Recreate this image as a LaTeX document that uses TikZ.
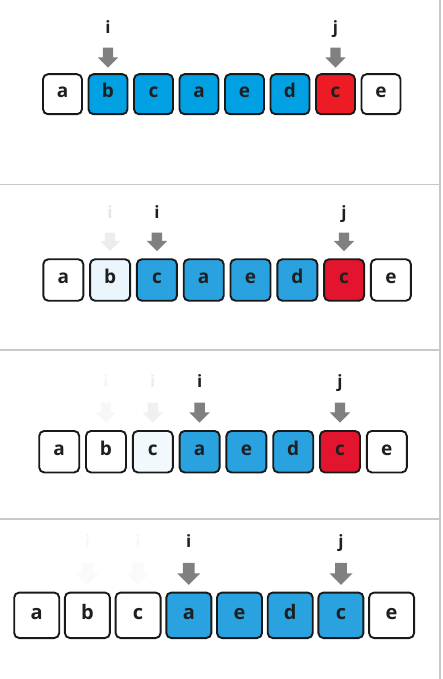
\documentclass[tikz,border=0pt]{standalone}
\usepackage{fontspec}
\setsansfont{Open Sans}
\usetikzlibrary{shapes.arrows, positioning}
\definecolor{cellblue}{RGB}{0,160,227}
\definecolor{cellbluetoo}{RGB}{42,162,223}
\definecolor{cellred}{RGB}{237,28,36}
\definecolor{cellredtoo}{RGB}{226,20,46}
\definecolor{cellpale}{RGB}{234,245,252}
\definecolor{cellpaler}{RGB}{242,249,253}
\definecolor{ptrgray}{RGB}{128,128,128}
\definecolor{rulegray}{RGB}{200,200,200}

\begin{document}
\begin{tikzpicture}[x=1pt, y=-1pt,
  cell/.style={rectangle, rounded corners=5pt, draw=black!90, line width=1.9pt,
               font=\sffamily\bfseries\fontsize{19}{21}\selectfont,
               text=black!88, text height=0.74em, text depth=0pt, inner sep=0pt,
               minimum width=39pt, minimum height=40pt},
  bigcell/.style={cell, minimum width=40pt, minimum height=41.5pt},
  hugecell/.style={cell, minimum width=45pt, minimum height=45.5pt,
                   font=\sffamily\bfseries\fontsize{20}{22}\selectfont},
  ptr/.style={single arrow, fill=ptrgray, draw=none, inner sep=5pt,
              minimum width=20pt, minimum height=20pt,
              single arrow head extend=5pt, shape border rotate=270},
  lbl/.style={anchor=base, inner sep=0pt, text=black!88,
              font=\sffamily\bfseries\fontsize{17}{19}\selectfont},
  rule/.style={draw=rulegray, line width=1.5pt}
]
\useasboundingbox (0,0) rectangle (442,679);

% panel rules
\draw[rule] (0,184.5) -- (440,184.5);
\draw[rule] (0,350) -- (440,350);
\draw[rule] (0,519) -- (440,519);
\draw[rule] (440,0) -- (440,679);

% panel 1
\foreach \ch/\col [count=\k] in {a/white,b/cellblue,c/cellblue,a/cellblue,
                                 e/cellblue,d/cellblue,c/cellred,e/white}
  \node[cell, fill=\col] (ra\k) at ({62.5+(\k-1)*45.5},94.2) {\ch};
\node[ptr] (pai) at (108,55) {};
\node[ptr] (paj) at (335.5,55) {};
\node[lbl] (lai) at (108,33.5) {i};
\node[lbl] (laj) at (335.5,33.5) {j};

% panel 2
\foreach \ch/\col [count=\k] in {a/white,b/cellpale,c/cellbluetoo,a/cellbluetoo,
                                 e/cellbluetoo,d/cellbluetoo,c/cellredtoo,e/white}
  \node[bigcell, fill=\col] (rb\k) at ({63.3+(\k-1)*46.8},280) {\ch};
\node[ptr, fill=black!7, minimum height=18.5pt] (pbo) at (110,239.3) {};
\node[ptr, minimum height=18.5pt] (pbi) at (156.9,239.3) {};
\node[ptr, minimum height=18.5pt] (pbj) at (344,239.3) {};
\node[lbl, text=black!10] (lbo) at (110,218.3) {i};
\node[lbl] (lbi) at (156.9,218.3) {i};
\node[lbl] (lbj) at (344,218.3) {j};

% panel 3
\foreach \ch/\col [count=\k] in {a/white,b/white,c/cellpaler,a/cellbluetoo,
                                 e/cellbluetoo,d/cellbluetoo,c/cellredtoo,e/white}
  \node[bigcell, fill=\col] (rc\k) at ({59.2+(\k-1)*46.8},451.7) {\ch};
\node[ptr, fill=black!3] (pco) at (106,410) {};
\node[ptr, fill=black!6] (pcp) at (152.8,410) {};
\node[ptr] (pci) at (199.6,410) {};
\node[ptr] (pcj) at (340,410) {};
\node[lbl, text=black!4] (lco) at (106,387.7) {i};
\node[lbl, text=black!7] (lcp) at (152.8,387.7) {i};
\node[lbl] (lci) at (199.6,387.7) {i};
\node[lbl] (lcj) at (340,387.7) {j};

% panel 4
\foreach \ch/\col [count=\k] in {a/white,b/white,c/white,a/cellbluetoo,
                                 e/cellbluetoo,d/cellbluetoo,c/cellbluetoo,e/white}
  \node[hugecell, fill=\col] (rd\k) at ({36.7+(\k-1)*50.7},615.3) {\ch};
\node[ptr, fill=black!2, minimum width=23pt, minimum height=22pt] (pdo) at (87.4,571) {};
\node[ptr, fill=black!2, minimum width=23pt, minimum height=22pt] (pdp) at (138,571) {};
\node[ptr, minimum width=23pt, minimum height=22pt] (pdi) at (188.8,571) {};
\node[ptr, minimum width=23pt, minimum height=22pt] (pdj) at (341,571) {};
\node[lbl, text=black!3] (ldo) at (87.4,547.7) {i};
\node[lbl, text=black!3] (ldp) at (138,547.7) {i};
\node[lbl] (ldi) at (188.8,547.7) {i};
\node[lbl] (ldj) at (341,547.7) {j};
\end{tikzpicture}
\end{document}
